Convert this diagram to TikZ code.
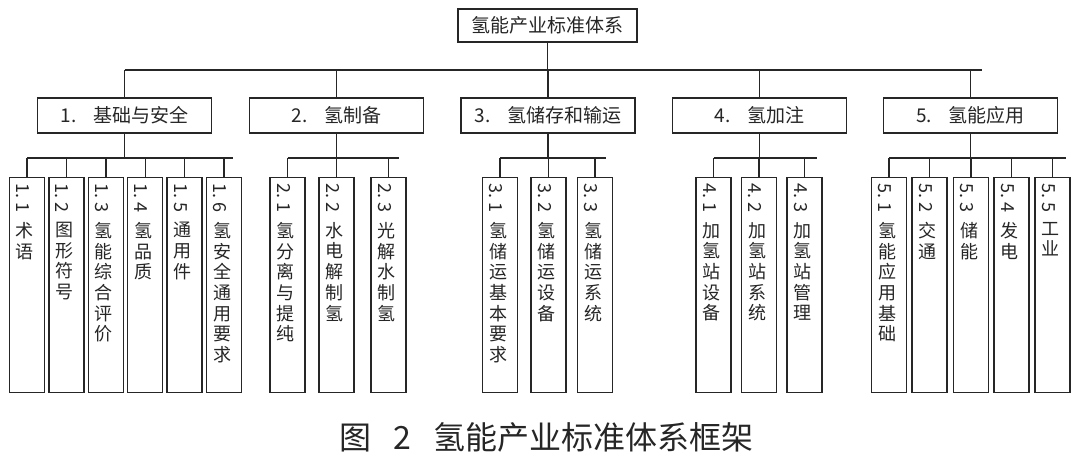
\documentclass[tikz,border=0pt]{standalone}
\usepackage{fontspec}
\setmainfont{Noto Sans CJK SC}
\usepackage{graphicx}
\begin{document}
\begin{tikzpicture}[x=1pt,y=-1pt,
  ln/.style={line width=1.4pt, draw=black!85},
  rootbox/.style={draw=black!85, line width=1.4pt, minimum width=179pt, minimum height=33pt, inner sep=0pt, font=\fontsize{19}{20}\selectfont, text=black!85},
  catbox/.style={draw=black!85, line width=1.4pt, minimum width=174pt, minimum height=35pt, inner sep=0pt, font=\fontsize{19}{20}\selectfont, text=black!85},
  leafbox/.style={draw=black!85, line width=1.4pt, minimum width=35pt, minimum height=215pt, inner sep=0pt, anchor=north},
  numlbl/.style={anchor=north, inner sep=0pt, font=\fontsize{18}{20}\selectfont, text=black!85},
  vtlbl/.style={anchor=north, inner sep=0pt, align=center, font=\fontsize{18}{20.7}\selectfont, text=black!85},
  caplbl/.style={inner sep=0pt, font=\fontsize{32}{34}\selectfont, text=black!85}
]
\useasboundingbox (0,0) rectangle (1080,461);
\fill[white] (0,0) rectangle (1080,461);

% root
\node[rootbox] (root) at (547.5,25.3) {氢能产业标准体系};

% level 2
\node[catbox] (k1) at (124.5,115.5) {1.\hspace{0.9em}基础与安全};
\node[catbox] (k2) at (336.5,115.5) {2.\hspace{0.9em}氢制备};
\node[catbox] (k3) at (548,115.5) {3.\hspace{0.9em}氢储存和输运};
\node[catbox] (k4) at (759.5,115.5) {4.\hspace{0.9em}氢加注};
\node[catbox] (k5) at (970.5,115.5) {5.\hspace{0.9em}氢能应用};

% root bus
\coordinate (rbL) at (124.5,70);
\coordinate (rbR) at (982,70);
\draw[ln] (rbL) -- (rbR);
\draw[ln] (root.south) -- (root.south |- rbL);
\foreach \k in {1,...,5}{
  \draw[ln] (k\k.north) -- (k\k.north |- rbL);
}

% group buses
\coordinate (b1L) at (27,158);   \coordinate (b1R) at (233,158);
\coordinate (b2L) at (287.5,158); \coordinate (b2R) at (399,158);
\coordinate (b3L) at (500,158);  \coordinate (b3R) at (606,158);
\coordinate (b4L) at (713.5,158); \coordinate (b4R) at (817,158);
\coordinate (b5L) at (889,158);  \coordinate (b5R) at (1066,158);
\foreach \k in {1,...,5}{
  \draw[ln] (b\k L) -- (b\k R);
  \draw[ln] (k\k.south) -- (k\k.south |- b\k L);
}

% leaves
\foreach \n/\g/\x/\na/\nb/\t in {
  11/1/27/1/1/{术\\语},
  12/1/66.4/1/2/{图\\形\\符\\号},
  13/1/105.8/1/3/{氢\\能\\综\\合\\评\\价},
  14/1/145.2/1/4/{氢\\品\\质},
  15/1/184.6/1/5/{通\\用\\件},
  16/1/224/1/6/{氢\\安\\全\\通\\用\\要\\求},
  21/2/287.5/2/1/{氢\\分\\离\\与\\提\\纯},
  22/2/336.5/2/2/{水\\电\\解\\制\\氢},
  23/2/388.5/2/3/{光\\解\\水\\制\\氢},
  31/3/500/3/1/{氢\\储\\运\\基\\本\\要\\求},
  32/3/548.5/3/2/{氢\\储\\运\\设\\备},
  33/3/595/3/3/{氢\\储\\运\\系\\统},
  41/4/713.5/4/1/{加\\氢\\站\\设\\备},
  42/4/759/4/2/{加\\氢\\站\\系\\统},
  43/4/804.5/4/3/{加\\氢\\站\\管\\理},
  51/5/889/5/1/{氢\\能\\应\\用\\基\\础},
  52/5/929.5/5/2/{交\\通},
  53/5/971/5/3/{储\\能},
  54/5/1011.5/5/4/{发\\电},
  55/5/1052.5/5/5/{工\\业}}{
  \node[leafbox] (c\n) at (\x,177) {};
  \node[numlbl] (n\n) at (\x-4,183) {\rotatebox{-90}{\na.\kern4pt\nb}};
  \node[vtlbl] (t\n) at (\x-2,222) {\t};
  \draw[ln] (c\n.north) -- (c\n.north |- b\g L);
}

% caption
\node[caplbl] (cap) at (546.5,437) {图\hspace{0.7em}2\hspace{0.7em}氢能产业标准体系框架};
\end{tikzpicture}
\end{document}
